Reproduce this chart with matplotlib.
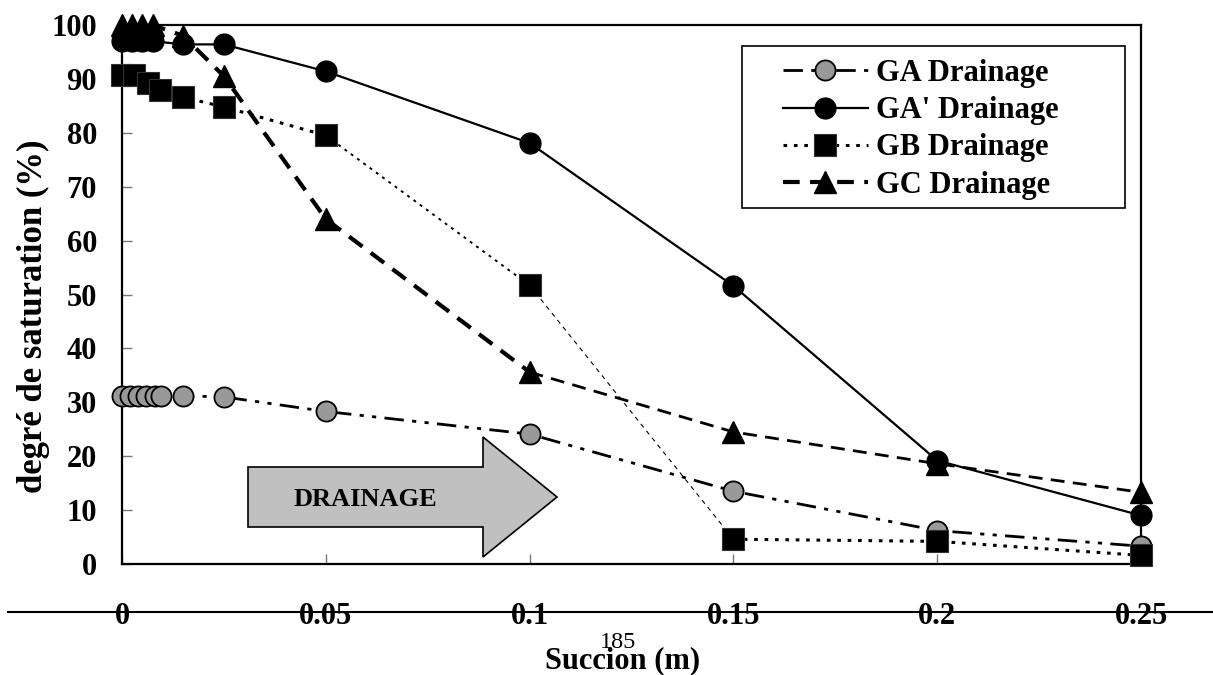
import matplotlib
matplotlib.use("Agg")
import matplotlib.pyplot as plt
from matplotlib.lines import Line2D
from matplotlib.patches import Polygon, Rectangle

plt.rcParams['font.family'] = ['Liberation Serif', 'DejaVu Serif']
plt.rcParams['font.weight'] = 'bold'
plt.rcParams['axes.labelweight'] = 'bold'

# Succion (m) and degré de saturation (%) for each sample, drainage path
ga_x = [0, 0.002, 0.004, 0.006, 0.008, 0.0095, 0.015, 0.025, 0.05, 0.1, 0.15, 0.2, 0.25]
ga_y = [31.2, 31.2, 31.2, 31.2, 31.2, 31.2, 31.2, 31.0, 28.3, 24.1, 13.5, 6.2, 3.3]

gap_x = [0, 0.0025, 0.005, 0.0075, 0.015, 0.025, 0.05, 0.1, 0.15, 0.2, 0.25]
gap_y = [97.0, 97.0, 97.0, 97.0, 96.4, 96.4, 91.4, 78.1, 51.6, 19.2, 9.0]

gb_x = [0, 0.003, 0.0065, 0.0093, 0.015, 0.025, 0.05, 0.1, 0.15, 0.2, 0.25]
gb_y = [90.7, 90.7, 89.2, 87.9, 86.6, 84.8, 79.5, 51.7, 4.6, 4.2, 1.6]

gc_x = [0, 0.0025, 0.005, 0.0075, 0.015, 0.025, 0.05, 0.1, 0.15, 0.2, 0.25]
gc_y = [100, 100, 100, 100, 98.0, 90.5, 64.0, 35.6, 24.5, 18.6, 13.3]

x_ticks = [0, 0.05, 0.1, 0.15, 0.2, 0.25]
x_tick_labels = ['0', '0.05', '0.1', '0.15', '0.2', '0.25']
y_ticks = list(range(0, 101, 10))

W, H = 1213, 675
fig = plt.figure(figsize=(W / 100, H / 100), dpi=100)
ax = fig.add_axes([122 / W, 1 - 564 / H, 1019 / W, 539 / H])

ax.set_xlim(0, 0.25)
ax.set_ylim(0, 100)

# series
ax.plot(ga_x, ga_y, color='black', lw=2, dashes=(7, 3, 1.5, 3, 1.5, 3),
        marker='o', ms=14.5, mfc='#999999', mec='black', mew=1.3,
        clip_on=False, zorder=3)
ax.plot(gc_x[:8], gc_y[:8], color='black', lw=3, dashes=(4, 2.5), zorder=3)
ax.plot(gc_x[7:], gc_y[7:], color='black', lw=2, dashes=(5, 3), zorder=3)
ax.plot(gc_x, gc_y, ls='none', marker='^', ms=15.5, mfc='black', mec='black',
        clip_on=False, zorder=4)
ax.plot(gap_x, gap_y, color='black', lw=1.6, ls='-', marker='o', ms=15,
        mfc='black', mec='black', clip_on=False, zorder=5)
ax.plot(gb_x[:7], gb_y[:7], color='black', lw=2.2, dashes=(1.2, 2.2), zorder=5)
ax.plot(gb_x[6:8], gb_y[6:8], color='black', lw=1.4, dashes=(1.5, 2.5), zorder=5)
ax.plot(gb_x[7:9], gb_y[7:9], color='black', lw=0.8, dashes=(4, 4), zorder=5)
ax.plot(gb_x[8:], gb_y[8:], color='black', lw=2.2, dashes=(1.2, 2.2), zorder=5)
ax.plot(gb_x, gb_y, ls='none', marker='s', ms=15.5, mfc='black', mec='#333333',
        mew=0.8, clip_on=False, zorder=6)

# axes styling
for s in ax.spines.values():
    s.set_color('black')
    s.set_linewidth(1.6)
ax.set_xticks(x_ticks)
ax.set_xticklabels(x_tick_labels)
ax.set_yticks(y_ticks)
ax.tick_params(axis='both', direction='in', length=7, width=1, color='#777777',
               labelsize=22)
ax.tick_params(axis='x', pad=27)
ax.tick_params(axis='y', pad=18)

ax.set_ylabel('degré de saturation (%)', fontsize=25, fontweight='bold', va='center')
ax.yaxis.set_label_coords(-0.0873, 0.46)
ax.set_xlabel('Succion (m)', fontsize=22, fontweight='bold', va='center')
ax.xaxis.set_label_coords(0.4915, -0.18)

# legend
legend_handles = [
    Line2D([], [], color='black', lw=2, dashes=(7, 3, 1.5, 3, 1.5, 3), marker='o',
           ms=14.5, mfc='#999999', mec='black', mew=1.3),
    Line2D([], [], color='black', lw=1.6, marker='o', ms=15, mfc='black', mec='black'),
    Line2D([], [], color='black', lw=2.2, dashes=(1.2, 2.2), marker='s', ms=15.5,
           mfc='black', mec='#333333', mew=0.8),
    Line2D([], [], color='black', lw=3, dashes=(4, 2.5), marker='^', ms=15.5,
           mfc='black', mec='black'),
]
legend_labels = ['GA Drainage', "GA' Drainage", 'GB Drainage', 'GC Drainage']
leg = ax.legend(legend_handles, legend_labels, loc='upper left',
                bbox_to_anchor=((783 - 122) / 1019, (564 - 59) / 539),
                frameon=False, fontsize=22, handlelength=2.78, handletextpad=0.25,
                labelspacing=0.27, borderpad=0, borderaxespad=0)
ax.add_patch(Rectangle(((742 - 122) / 1019, (564 - 208) / 539),
                       (1125 - 742) / 1019, (208 - 46) / 539,
                       transform=ax.transAxes, fill=False, ec='black', lw=1.2,
                       zorder=7))

# DRAINAGE arrow
def ax_pt(px, py):
    return ((px - 122) / 1019, (564 - py) / 539)

arrow_pts = [ax_pt(248, 467), ax_pt(483, 467), ax_pt(483, 437), ax_pt(557, 497),
             ax_pt(483, 557), ax_pt(483, 527), ax_pt(248, 527)]
ax.add_patch(Polygon(arrow_pts, closed=True, transform=ax.transAxes,
                     fc='#c0c0c0', ec='black', lw=1.2, zorder=2))
tx, ty = ax_pt(365, 499)
ax.text(tx, ty, 'DRAINAGE', transform=ax.transAxes, fontsize=19,
        ha='center', va='center', zorder=3)

# page rule and number
fig.add_artist(Line2D([8 / W, 1], [1 - 612 / H] * 2, transform=fig.transFigure,
                      color='black', lw=1.5, zorder=0))
fig.text(618 / W, 1 - 643 / H, '185', fontsize=17.5, fontweight='normal',
         ha='center', va='center')

fig.savefig('out.png', dpi=100)
